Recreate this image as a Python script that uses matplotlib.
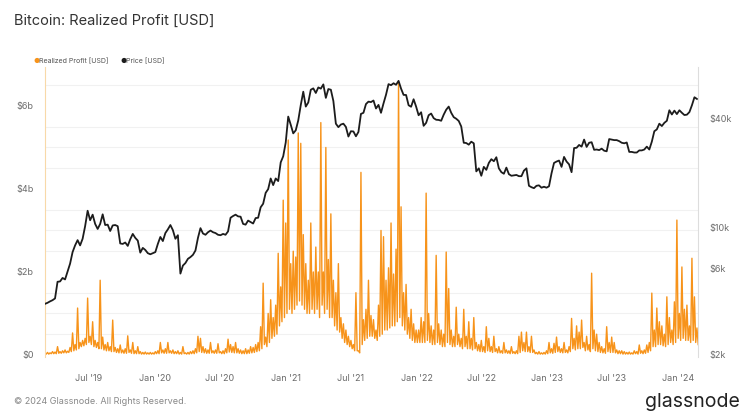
import matplotlib
matplotlib.use("Agg")
import matplotlib.pyplot as plt
import matplotlib.ticker as mticker
import pandas as pd

# weekly series starting Friday 2019-03-01
week_start = "2019-03-01"

# Realized profit [$ billions], weekly highs
profit_high = [
    0.05, 0.06, 0.05, 0.08, 0.07, 0.2, 0.08, 0.1, 0.12, 0.09,
    0.18, 0.53, 0.25, 1.13, 0.3, 0.35, 0.4, 1.37, 0.45, 0.8,
    0.35, 0.3, 1.8, 0.43, 0.25, 0.3, 0.2, 0.84, 0.18, 0.15,
    0.24, 0.12, 0.15, 0.46, 0.12, 0.3, 0.1, 0.2, 0.08, 0.06,
    0.07, 0.05, 0.06, 0.05, 0.08, 0.1, 0.3, 0.12, 0.15, 0.3,
    0.1, 0.12, 0.08, 0.1, 0.06, 0.2, 0.05, 0.06, 0.08, 0.1,
    0.15, 0.45, 0.4, 0.2, 0.15, 0.12, 0.3, 0.1, 0.12, 0.27,
    0.08, 0.1, 0.15, 0.38, 0.25, 0.2, 0.3, 0.15, 0.12, 0.1,
    0.15, 0.12, 0.2, 0.18, 0.25, 0.3, 0.68, 1.73, 0.43, 1.0,
    1.33, 0.9, 1.2, 2.45, 1.64, 3.73, 3.18, 5.18, 2.2, 2.5,
    2.36, 5.35, 5.1, 2.9, 2.2, 1.8, 3.18, 2.0, 2.6, 2.0,
    5.6, 2.0, 5.0, 2.3, 3.4, 1.8, 1.5, 2.2, 0.9, 0.75,
    0.6, 0.45, 0.35, 0.25, 1.5, 0.1, 4.4, 0.85, 1.1, 1.8,
    0.95, 0.85, 0.6, 1.2, 3.0, 2.85, 1.8, 2.1, 3.18, 1.95,
    2.55, 6.56, 3.57, 1.5, 1.7, 0.9, 1.1, 0.75, 0.6, 0.6,
    0.9, 0.8, 3.9, 1.0, 0.7, 0.6, 2.4, 0.75, 0.6, 0.5,
    2.48, 1.6, 0.6, 0.45, 1.15, 0.5, 0.4, 1.1, 0.45, 0.8,
    0.4, 0.9, 0.3, 0.25, 0.35, 0.2, 0.68, 0.4, 0.2, 0.45,
    0.15, 0.2, 0.1, 0.3, 0.12, 0.1, 0.2, 0.08, 0.1, 0.45,
    0.55, 0.3, 0.55, 0.2, 0.45, 0.12, 0.06, 0.08, 0.05, 0.06,
    0.1, 0.3, 0.15, 0.28, 0.43, 0.2, 0.15, 0.3, 0.12, 0.2,
    0.88, 0.4, 0.7, 0.55, 0.84, 0.3, 0.45, 0.25, 1.97, 0.6,
    0.5, 0.3, 0.2, 0.15, 0.68, 0.3, 0.43, 0.3, 0.12, 0.1,
    0.1, 0.08, 0.06, 0.07, 0.05, 0.1, 0.08, 0.24, 0.1, 0.12,
    0.24, 0.3, 1.49, 0.6, 1.13, 0.8, 0.7, 0.5, 1.4, 0.9,
    0.6, 1.28, 3.25, 1.0, 2.12, 1.1, 1.2, 0.7, 2.33, 1.4,
    0.65,
]

# mid-week lows [$ billions] (lower edge of the orange band)
profit_low = [
    0.02, 0.02, 0.03, 0.03, 0.03, 0.04, 0.04, 0.05, 0.05, 0.06,
    0.08, 0.1, 0.12, 0.15, 0.2, 0.22, 0.25, 0.3, 0.25, 0.2,
    0.18, 0.15, 0.15, 0.12, 0.1, 0.1, 0.08, 0.08, 0.06, 0.05,
    0.05, 0.04, 0.04, 0.06, 0.04, 0.03, 0.03, 0.03, 0.02, 0.02,
    0.02, 0.02, 0.02, 0.02, 0.03, 0.03, 0.05, 0.04, 0.04, 0.05,
    0.04, 0.03, 0.03, 0.02, 0.02, 0.03, 0.02, 0.02, 0.03, 0.03,
    0.05, 0.08, 0.06, 0.05, 0.04, 0.04, 0.05, 0.04, 0.04, 0.05,
    0.03, 0.03, 0.05, 0.07, 0.06, 0.05, 0.05, 0.04, 0.03, 0.03,
    0.03, 0.04, 0.05, 0.06, 0.08, 0.1, 0.15, 0.25, 0.2, 0.3,
    0.4, 0.45, 0.5, 0.7, 0.8, 0.9, 1.0, 1.1, 1.0, 1.1,
    1.2, 1.3, 1.2, 1.1, 1.0, 1.0, 1.1, 1.0, 1.1, 0.9,
    1.2, 1.0, 1.1, 0.9, 0.9, 0.7, 0.6, 0.55, 0.4, 0.3,
    0.25, 0.2, 0.15, 0.1, 0.1, 0.05, 0.25, 0.35, 0.4, 0.45,
    0.45, 0.4, 0.35, 0.45, 0.5, 0.6, 0.6, 0.65, 0.7, 0.7,
    0.8, 0.9, 0.7, 0.6, 0.5, 0.4, 0.35, 0.3, 0.3, 0.3,
    0.3, 0.3, 0.35, 0.3, 0.25, 0.25, 0.3, 0.25, 0.2, 0.2,
    0.3, 0.25, 0.2, 0.2, 0.25, 0.2, 0.15, 0.2, 0.15, 0.15,
    0.12, 0.15, 0.1, 0.08, 0.08, 0.06, 0.1, 0.08, 0.06, 0.08,
    0.05, 0.05, 0.04, 0.05, 0.04, 0.03, 0.04, 0.03, 0.03, 0.06,
    0.1, 0.08, 0.08, 0.06, 0.06, 0.03, 0.02, 0.02, 0.02, 0.02,
    0.03, 0.05, 0.04, 0.06, 0.08, 0.06, 0.05, 0.06, 0.05, 0.08,
    0.15, 0.12, 0.15, 0.15, 0.18, 0.1, 0.12, 0.08, 0.15, 0.1,
    0.08, 0.06, 0.05, 0.04, 0.08, 0.06, 0.06, 0.05, 0.03, 0.03,
    0.02, 0.02, 0.02, 0.02, 0.02, 0.03, 0.02, 0.04, 0.03, 0.04,
    0.06, 0.1, 0.2, 0.2, 0.25, 0.25, 0.22, 0.2, 0.25, 0.3,
    0.25, 0.3, 0.4, 0.35, 0.4, 0.35, 0.35, 0.3, 0.35, 0.3,
    0.25,
]

# BTC price [USD], weekly
price_usd = [
    # 2019
    3820, 3870, 3940, 4000, 4090, 5050, 5070, 5300, 5200,
    5750, 6350, 7350, 8000, 8550, 8000, 8700, 10200, 12400,
    11000, 11800, 10500, 9850, 10500, 11850, 10350, 10400, 9600,
    10300, 10350, 10200, 8200, 8150, 8300, 7950, 8650,
    9250, 8800, 8500, 7300, 7750, 7550, 7250, 7150, 7250,
    # 2020
    7350, 8150, 8900, 8450, 9350, 9800, 10350, 9700, 8700,
    9100, 5600, 6200, 6400, 6750, 6900, 7100, 7500,
    8800, 9950, 9300, 9150, 9450, 9650, 9450, 9350, 9150,
    9100, 9250, 9150, 9550, 11350, 11600, 11800, 11550, 11500,
    10500, 10400, 10950, 10750, 10550, 11300, 11350, 12950, 13550,
    15550, 16300, 18650, 17150, 18650, 18050, 22850, 24700,
    # 2021
    29400, 40800, 36800, 33000, 34300, 38900, 47200, 55900, 46300,
    48800, 57300, 58300, 55000, 59000, 58100, 61300, 51700, 57800,
    57300, 49700, 37300, 35700, 36900, 37300, 35800, 31700,
    33900, 33800, 31800, 33600, 42200, 42800, 47800, 49300, 49000,
    50000, 45200, 47300, 42800, 48200, 53800, 61500, 60700, 62200,
    61000, 64100, 58100, 53700, 53600, 47100, 46200, 50800, 46300,
    # 2022
    41500, 43100, 36300, 37700, 41500, 42400, 40000, 39200,
    39100, 38700, 41800, 44500, 46300, 42800, 40500, 39700, 38600,
    36000, 29300, 29200, 28600, 29700, 29100, 20400, 21200,
    19300, 21600, 20800, 22700, 23800, 23200, 24400, 21200, 20200,
    19800, 21400, 19700, 19300, 19400, 19500, 19200, 19200, 20600,
    21200, 17000, 16700, 16500, 17000, 17100, 16600, 16800, 16600,
    # 2023
    16900, 19900, 22700, 23100, 23400, 21600, 24500, 23100,
    22300, 20200, 27400, 27500, 28500, 27900, 30500, 27800, 29300,
    29500, 26800, 26900, 26700, 27200, 26500, 26300, 30700, 30500,
    30300, 30300, 29900, 29300, 29100, 29400, 26100, 26100,
    25900, 25900, 26600, 26600, 26900, 27900, 26900, 29700, 33900,
    34700, 37300, 36200, 37700, 38700, 44200, 41900, 44000, 42100,
    # 2024
    44200, 42800, 41600, 41800, 43200, 47100, 52100, 51000,
]

x_ticks = ["2019-07-01", "2020-01-01", "2020-07-01", "2021-01-01", "2021-07-01",
           "2022-01-01", "2022-07-01", "2023-01-01", "2023-07-01", "2024-01-01"]
x_labels = ["Jul '19", "Jan '20", "Jul '20", "Jan '21", "Jul '21",
            "Jan '22", "Jul '22", "Jan '23", "Jul '23", "Jan '24"]
left_ticks = [0, 2, 4, 6]
left_labels = ["$0", "$2b", "$4b", "$6b"]
right_ticks = [2000, 6000, 10000, 40000]
right_labels = ["$2k", "$6k", "$10k", "$40k"]

orange = "#f7931a"
black = "#1c1c1c"
gray = "#6b6b6b"

plt.rcParams['font.family'] = ['Inter', 'DejaVu Sans']

weeks = pd.date_range(week_start, periods=len(profit_high), freq="7D")

# interleave weekly highs with mid-week lows
profit = pd.concat([
    pd.Series(profit_high, index=weeks),
    pd.Series(profit_low, index=weeks + pd.Timedelta(hours=84)),
]).sort_index()

fig = plt.figure(figsize=(7.5, 4.2), dpi=100)
ax = fig.add_axes([0.06, 0.15, 0.8707, 0.6905])
ax2 = ax.twinx()

ax.plot(profit.index, profit.values, color=orange, lw=1.0)
ax2.plot(weeks, price_usd, color=black, lw=1.3)

ax.set_xlim(pd.Timestamp("2019-03-01"), pd.Timestamp("2024-02-26"))
ax.set_ylim(-0.05, 6.94)
ax2.set_yscale("log")
ax2.set_ylim(1950, 76400)

# faint horizontal grid every $0.5b
ax.set_yticks([i * 0.5 for i in range(14)], minor=True)
ax.grid(True, which="minor", axis="y", color="#f1f1f1", lw=0.8)
ax.set_axisbelow(True)

ax.set_yticks(left_ticks)
ax.set_yticklabels(left_labels)
ax2.set_yticks(right_ticks)
ax2.set_yticklabels(right_labels)
ax2.yaxis.set_minor_locator(mticker.NullLocator())
ax.set_xticks(pd.to_datetime(x_ticks))
ax.set_xticklabels(x_labels)

for a in (ax, ax2):
    a.tick_params(which="both", length=0, labelsize=6.5, labelcolor=gray, pad=8)
    for s in a.spines.values():
        s.set_visible(False)
ax.tick_params(axis="x", pad=12)
ax.spines["left"].set_visible(True)
ax.spines["left"].set_color("#f8d9a8")
ax.spines["left"].set_linewidth(0.8)
ax2.spines["right"].set_visible(True)
ax2.spines["right"].set_color("#dddddd")
ax2.spines["right"].set_linewidth(0.8)

fig.text(14 / 750, 1 - 21 / 420, "Bitcoin: Realized Profit [USD]", fontsize=10.5,
         color="#333333", va="center", ha="left")

# legend
fig.text(33 / 750, 1 - 61 / 420, "\u25CF", fontsize=5, color=orange, va="center")
fig.text(39 / 750, 1 - 61 / 420, "Realized Profit [USD]", fontsize=5, color="#555555", va="center")
fig.text(120 / 750, 1 - 61 / 420, "\u25CF", fontsize=5, color=black, va="center")
fig.text(126 / 750, 1 - 61 / 420, "Price [USD]", fontsize=5, color="#555555", va="center")

fig.text(14 / 750, 1 - 402 / 420, "\u00A9 2024 Glassnode. All Rights Reserved.", fontsize=6.5,
         color="#888888", va="center", ha="left")
fig.text(740 / 750, 1 - 402 / 420, "glassnode", fontsize=14, color="#222222",
         va="center", ha="right")

fig.savefig("out.png", dpi=100, facecolor="white")
